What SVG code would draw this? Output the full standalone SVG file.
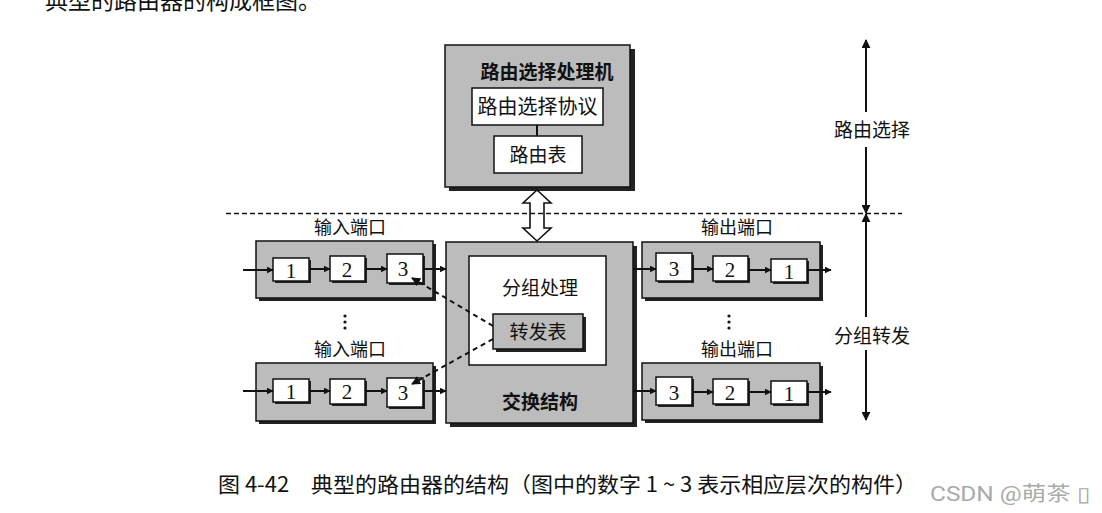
<svg xmlns="http://www.w3.org/2000/svg" width="1102" height="513" viewBox="0 0 1102 513">
<style>
.cn{font-family:"Noto Sans CJK SC","Noto Sans",sans-serif;fill:#111}
.num{font-family:"Liberation Serif",serif;font-size:21px;fill:#111;text-anchor:middle}
.gray{fill:#bcbcbc;stroke:#111;stroke-width:1.5}
.white{fill:#fff;stroke:#111;stroke-width:1.5}
.shadow{fill:#222}
.ln{stroke:#111;stroke-width:2;fill:none}
.dash{stroke:#111;stroke-width:2;stroke-dasharray:5,4;fill:none}
</style>
<defs>
<marker id="ah" viewBox="0 0 10 10" refX="9" refY="5" markerWidth="7" markerHeight="7" markerUnits="userSpaceOnUse" orient="auto"><path d="M0,0L10,5L0,10z" fill="#111"/></marker>
<marker id="ah2" viewBox="0 0 10 10" refX="9" refY="5" markerWidth="9" markerHeight="9" markerUnits="userSpaceOnUse" orient="auto"><path d="M0,0L10,5L0,10z" fill="#111"/></marker>
</defs>
<rect width="1102" height="513" fill="#fff"/>
<text x="45" y="9" class="cn" font-size="23">典型的路由器的构成框图。</text>

<g id="routing-processor">
<rect x="449" y="49" width="186" height="142" class="shadow"/>
<rect x="445" y="45" width="185" height="142" class="gray"/>
<text x="547" y="79" class="cn" font-size="19" font-weight="bold" text-anchor="middle">路由选择处理机</text>
</g>
<g id="routing-protocol">
<rect x="472" y="88" width="131" height="37" class="white"/>
<text x="537.5" y="114" class="cn" font-size="20" text-anchor="middle">路由选择协议</text>
</g>
<g id="routing-table">
<rect x="494" y="136" width="88" height="37" class="white"/>
<text x="538" y="162" class="cn" font-size="19" text-anchor="middle">路由表</text>
</g>

<g id="switch-fabric">
<rect x="450" y="246" width="187" height="181" class="shadow"/>
<rect x="446" y="242" width="187" height="181" class="gray"/>
<text x="540" y="409" class="cn" font-size="19" font-weight="bold" text-anchor="middle">交换结构</text>
</g>
<g id="packet-processing">
<rect x="469" y="256" width="137" height="109" class="white"/>
<text x="540" y="295" class="cn" font-size="19" text-anchor="middle">分组处理</text>
</g>
<g id="forwarding-table">
<rect x="496" y="317" width="90" height="35" class="shadow"/>
<rect x="493" y="314" width="90" height="35" class="gray"/>
<text x="538" y="339" class="cn" font-size="19" text-anchor="middle">转发表</text>
</g>

<g id="input-port-1">
<text x="350" y="234" class="cn" font-size="18" text-anchor="middle">输入端口</text>
<rect x="259" y="244" width="177" height="57" class="shadow"/>
<rect x="256" y="241" width="177" height="57" class="gray"/>
<rect x="275" y="260" width="36" height="23" class="shadow"/>
<rect x="273" y="258" width="36" height="23" class="white"/>
<text x="291" y="278" class="num">1</text>
<rect x="332" y="258" width="35" height="25" class="shadow"/>
<rect x="330" y="256" width="35" height="25" class="white"/>
<text x="347" y="277" class="num">2</text>
<rect x="389" y="256" width="36" height="29" class="shadow"/>
<rect x="387" y="254" width="36" height="29" class="white"/>
<text x="403" y="276" class="num">3</text>
</g>
<g id="input-port-2">
<text x="350" y="356" class="cn" font-size="18" text-anchor="middle">输入端口</text>
<rect x="259" y="366" width="177" height="58" class="shadow"/>
<rect x="256" y="363" width="177" height="58" class="gray"/>
<rect x="275" y="381" width="36" height="23" class="shadow"/>
<rect x="273" y="379" width="36" height="23" class="white"/>
<text x="291" y="399" class="num">1</text>
<rect x="332" y="381" width="35" height="25" class="shadow"/>
<rect x="330" y="379" width="35" height="25" class="white"/>
<text x="347" y="399" class="num">2</text>
<rect x="389" y="380" width="36" height="29" class="shadow"/>
<rect x="387" y="378" width="36" height="29" class="white"/>
<text x="403" y="400" class="num">3</text>
</g>
<g id="input-dots">
<circle cx="345" cy="316" r="1.6" fill="#111"/><circle cx="345" cy="322" r="1.6" fill="#111"/><circle cx="345" cy="328" r="1.6" fill="#111"/>
</g>

<g id="output-port-1">
<text x="737" y="234" class="cn" font-size="18" text-anchor="middle">输出端口</text>
<rect x="645" y="245" width="178" height="56" class="shadow"/>
<rect x="642" y="242" width="178" height="56" class="gray"/>
<rect x="658" y="255" width="36" height="28" class="shadow"/>
<rect x="656" y="253" width="36" height="28" class="white"/>
<text x="674" y="276" class="num">3</text>
<rect x="715" y="258" width="35" height="25" class="shadow"/>
<rect x="713" y="256" width="35" height="25" class="white"/>
<text x="730" y="277" class="num">2</text>
<rect x="773" y="261" width="36" height="23" class="shadow"/>
<rect x="771" y="259" width="36" height="23" class="white"/>
<text x="789" y="279" class="num">1</text>
</g>
<g id="output-port-2">
<text x="737" y="356" class="cn" font-size="18" text-anchor="middle">输出端口</text>
<rect x="645" y="366" width="178" height="57" class="shadow"/>
<rect x="642" y="363" width="178" height="57" class="gray"/>
<rect x="658" y="379" width="36" height="28" class="shadow"/>
<rect x="656" y="377" width="36" height="28" class="white"/>
<text x="674" y="400" class="num">3</text>
<rect x="715" y="381" width="35" height="25" class="shadow"/>
<rect x="713" y="379" width="35" height="25" class="white"/>
<text x="730" y="400" class="num">2</text>
<rect x="773" y="383" width="36" height="23" class="shadow"/>
<rect x="771" y="381" width="36" height="23" class="white"/>
<text x="789" y="401" class="num">1</text>
</g>
<g id="output-dots">
<circle cx="729" cy="316" r="1.6" fill="#111"/><circle cx="729" cy="322" r="1.6" fill="#111"/><circle cx="729" cy="328" r="1.6" fill="#111"/>
</g>

<g id="labels-right">
<text x="872" y="137" class="cn" font-size="19" text-anchor="middle">路由选择</text>
<text x="872" y="343" class="cn" font-size="19" text-anchor="middle">分组转发</text>
</g>

<g id="connectors">
<line x1="537" y1="125" x2="537" y2="136" class="ln"/>
<path d="M537,190 L551,203 L544,203 L544,228 L551,228 L537,241 L523,228 L530,228 L530,203 L523,203 Z" fill="#fff" stroke="#111" stroke-width="1.6"/>
<line x1="226" y1="213.5" x2="902" y2="213.5" stroke="#111" stroke-width="1.6" stroke-dasharray="5,3"/>

<line x1="866" y1="112" x2="866" y2="40" class="ln" marker-end="url(#ah2)"/>
<line x1="866" y1="147" x2="866" y2="213" class="ln" marker-end="url(#ah2)"/>
<line x1="866" y1="317" x2="866" y2="214" class="ln" marker-end="url(#ah2)"/>
<line x1="866" y1="350" x2="866" y2="420" class="ln" marker-end="url(#ah2)"/>

<line x1="243" y1="270" x2="273" y2="270" class="ln" marker-end="url(#ah)"/>
<line x1="309" y1="269" x2="330" y2="269" class="ln" marker-end="url(#ah)"/>
<line x1="365" y1="269" x2="387" y2="269" class="ln" marker-end="url(#ah)"/>
<line x1="423" y1="269" x2="446" y2="269" class="ln" marker-end="url(#ah)"/>

<line x1="243" y1="391" x2="273" y2="391" class="ln" marker-end="url(#ah)"/>
<line x1="309" y1="391" x2="330" y2="391" class="ln" marker-end="url(#ah)"/>
<line x1="365" y1="391" x2="387" y2="391" class="ln" marker-end="url(#ah)"/>
<line x1="423" y1="391" x2="446" y2="391" class="ln" marker-end="url(#ah)"/>

<line x1="633" y1="269" x2="656" y2="269" class="ln" marker-end="url(#ah)"/>
<line x1="692" y1="269" x2="713" y2="269" class="ln" marker-end="url(#ah)"/>
<line x1="748" y1="270" x2="771" y2="270" class="ln" marker-end="url(#ah)"/>
<line x1="807" y1="270" x2="831" y2="270" class="ln" marker-end="url(#ah)"/>

<line x1="633" y1="391" x2="656" y2="391" class="ln" marker-end="url(#ah)"/>
<line x1="692" y1="392" x2="713" y2="392" class="ln" marker-end="url(#ah)"/>
<line x1="748" y1="392" x2="771" y2="392" class="ln" marker-end="url(#ah)"/>
<line x1="807" y1="392" x2="831" y2="392" class="ln" marker-end="url(#ah)"/>

<line x1="493" y1="326" x2="412" y2="278" class="dash" marker-end="url(#ah2)"/>
<line x1="493" y1="339" x2="412" y2="384" class="dash" marker-end="url(#ah2)"/>
</g>

<g id="caption">
<text x="218" y="492" class="cn" font-size="21" textLength="699" lengthAdjust="spacingAndGlyphs">图 4-42　典型的路由器的结构（图中的数字 1 ~ 3 表示相应层次的构件）</text>
<text x="930" y="501" font-family="Roboto,'Noto Sans CJK SC',sans-serif" font-size="20" fill="#aaa" textLength="160" lengthAdjust="spacingAndGlyphs">CSDN @萌茶 ▯</text>
</g>
</svg>
